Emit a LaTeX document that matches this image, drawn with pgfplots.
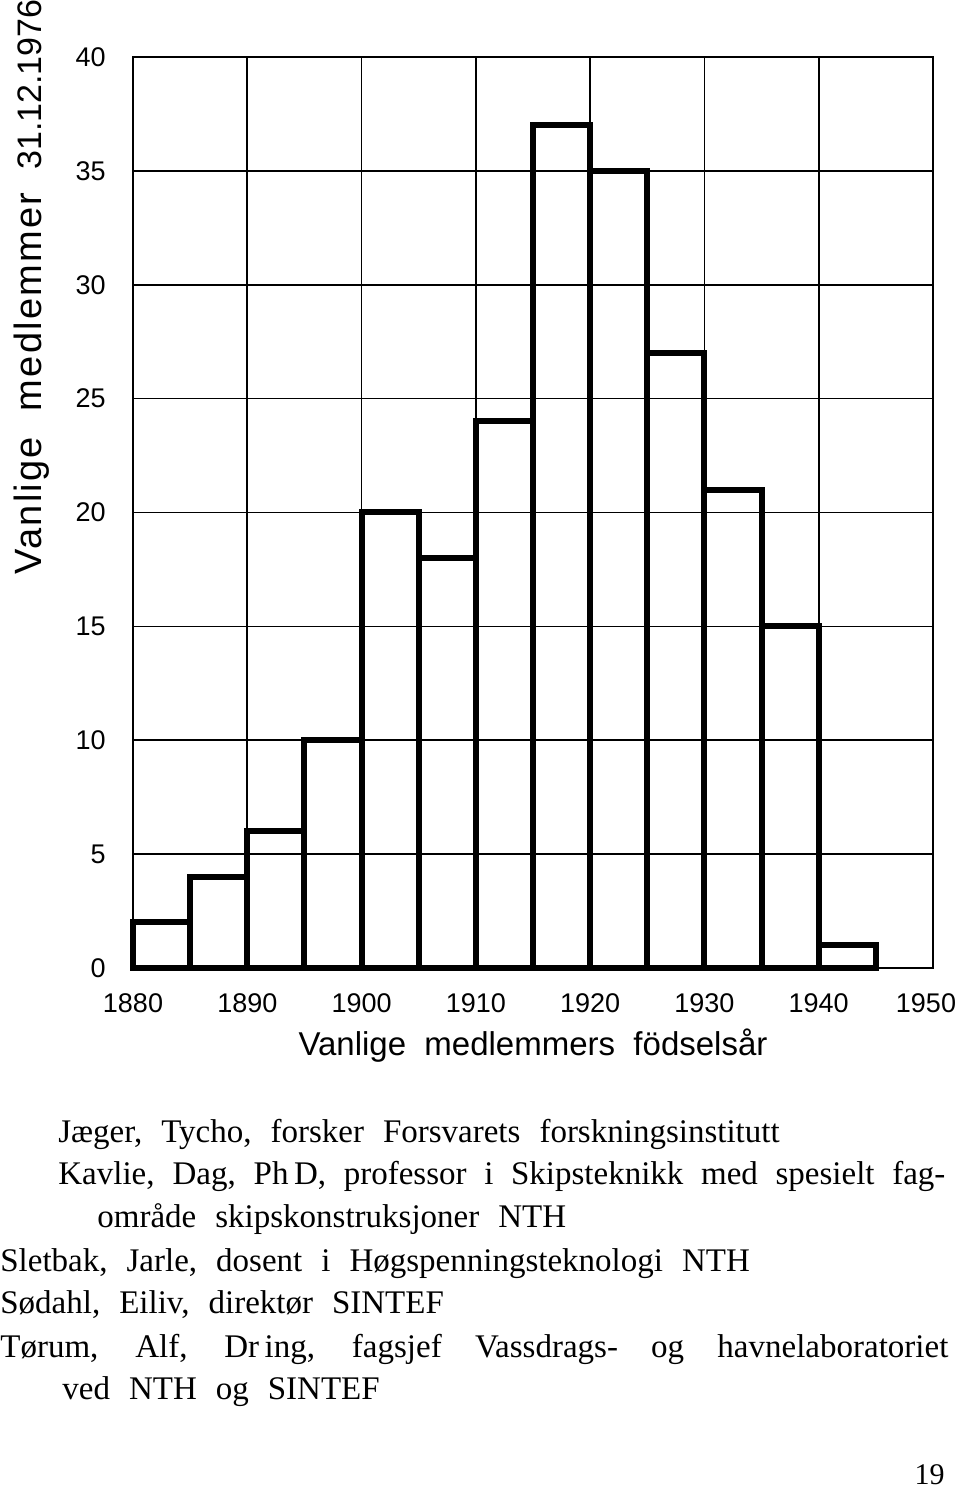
\documentclass[border=0pt]{standalone}
\usepackage{pgfplots}
\pgfplotsset{compat=1.18}
\usepackage{fontspec}
\setmainfont{Liberation Serif}
\newfontfamily\lettering{Liberation Sans}
\newfontfamily\letteringsp[LetterSpace=6]{Liberation Sans}
\newcommand{\bodyfont}{\fontsize{16.5bp}{20bp}\selectfont\spaceskip=9.5bp plus 12bp minus 3bp\relax}
\begin{document}
\begin{tikzpicture}[x=1bp,y=1bp]
\path[use as bounding box, fill=white] (0,0) rectangle (480,745.5);
\begin{axis}[
  at={(66.5bp,261.5bp)}, anchor=south west,
  scale only axis, width=400bp, height=455.5bp,
  xmin=1880, xmax=1950, ymin=0, ymax=40,
  xtick={1880,1890,...,1940}, ytick={0,5,...,40},
  extra x ticks={1950},
  extra x tick style={xticklabel style={xshift=-3.5bp}},
  grid=major,
  major grid style={black, line width=0.8bp},
  axis line style={black, line width=1.2bp},
  major tick length=0pt,
  /pgf/number format/assume math mode=true,
  /pgf/number format/set thousands separator={},
  ticklabel style={font=\lettering\fontsize{13.5bp}{16bp}\selectfont},
  xticklabel style={anchor=north, inner sep=0pt, yshift=-12.5bp},
  yticklabel style={anchor=east, inner sep=0pt, xshift=-13.5bp},
  xlabel={Vanlige\ \ medlemmers\ \ födselsår},
  xlabel style={at={(axis description cs:0.5,-0.0966)}, anchor=base, inner sep=0pt,
    font=\lettering\fontsize{16.5bp}{20bp}\selectfont},
  ylabel={Vanlige\ \ medlemmer\hspace{0.6em}{\lettering\fontsize{17bp}{20bp}\selectfont 31.12.1976}},
  ylabel style={at={(axis description cs:-0.11375,0.4314)}, anchor=base west, inner sep=0pt,
    font=\letteringsp\fontsize{19bp}{22bp}\selectfont},
  clip=false,
]
\addplot[ybar interval, draw=black, fill=none, line width=3bp] coordinates {
  (1880,2) (1885,4) (1890,6) (1895,10) (1900,20) (1905,18) (1910,24)
  (1915,37) (1920,35) (1925,27) (1930,21) (1935,15) (1940,1) (1945,1)
};
\end{axis}
\begin{scope}[every node/.style={inner sep=0pt, font=\bodyfont}]
\node[anchor=base west] at (29,174) {Jæger, Tycho, forsker Forsvarets forskningsinstitutt};
\node[anchor=base west] at (29,153) {\makebox[443.5bp][s]{Kavlie, Dag, Ph\,D, professor i Skipsteknikk med spesielt fag-}};
\node[anchor=base west] at (48.5,131.5) {område skipskonstruksjoner NTH};
\node[anchor=base west] at (0,109.5) {Sletbak, Jarle, dosent i Høgspenningsteknologi NTH};
\node[anchor=base west] at (0,88.5) {Sødahl, Eiliv, direktør SINTEF};
\node[anchor=base west] at (0,66.5) {\makebox[474bp][s]{Tørum, Alf, Dr\,ing, fagsjef Vassdrags- og havnelaboratoriet}};
\node[anchor=base west] at (31,45.5) {ved NTH og SINTEF};
\node[anchor=base east, font=\fontsize{15bp}{18bp}\selectfont] at (472.5,3) {19};
\end{scope}
\end{tikzpicture}
\end{document}
